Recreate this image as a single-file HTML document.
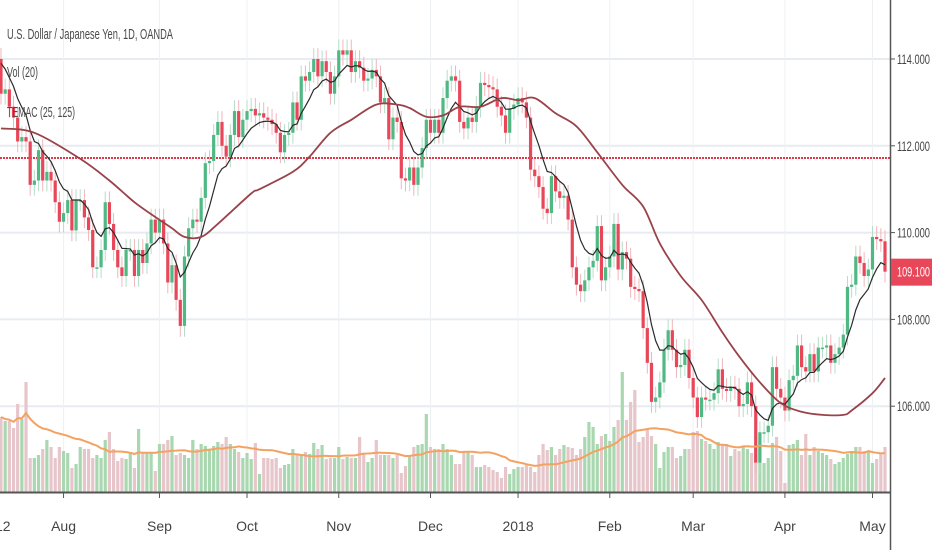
<!DOCTYPE html>
<html><head><meta charset="utf-8"><style>
html,body{margin:0;padding:0;background:#fff;}
svg{display:block;font-family:"Liberation Sans",sans-serif;}
</style></head><body>
<svg id="chart" width="932" height="550" viewBox="0 0 932 550" xmlns="http://www.w3.org/2000/svg">
<g id="grid"></g>
<g id="vol"></g>
<g id="candles"></g>
<g id="lines"></g>
<g id="axes"></g>
<text x="7" y="39" font-size="15" fill="#4a4a4a" textLength="166" lengthAdjust="spacingAndGlyphs">U.S. Dollar / Japanese Yen, 1D, OANDA</text>
<text x="7" y="77" font-size="15" fill="#4a4a4a" textLength="31" lengthAdjust="spacingAndGlyphs">Vol (20)</text>
<text x="7" y="117" font-size="15" fill="#4a4a4a" textLength="68" lengthAdjust="spacingAndGlyphs">TEMAC (25, 125)</text>
</svg>
<script>
const closes = [
113.2,113.3,112.9,112.65,112.1,112.2,112.1,111.1,111.2,111.9,111.2,111.4,111.2,110.7,110.25,110.45,110.75,110.05,110.75,110.75,110.35,110.06,109.2,109.2,109.6,110.7,110.2,109.6,109.2,109.0,109.6,109.6,109.0,109.6,109.3,109.75,110.3,110.0,110.3,109.75,108.85,109.25,108.45,107.85,109.45,110.1,110.3,110.25,110.8,111.6,111.65,112.25,112.55,112.0,111.75,112.25,112.8,112.2,112.6,112.8,112.85,112.7,112.75,112.65,112.6,112.5,112.3,111.85,112.25,112.3,113.0,112.6,113.6,113.5,113.7,
114.0,113.6,113.95,113.7,113.2,113.6,114.2,114.1,114.2,113.7,113.95,113.8,113.5,113.55,113.75,113.6,113.0,113.1,112.15,112.65,112.55,111.25,111.2,111.5,111.1,111.5,111.95,112.6,112.3,112.6,112.3,113.1,113.5,113.6,113.5,112.55,112.4,112.65,112.55,112.9,113.45,113.4,113.35,113.3,112.9,112.7,112.3,112.85,112.95,113.1,113.0,112.65,111.45,111.3,111.05,110.55,110.45,111.3,110.95,110.8,110.85,110.3,109.2,108.8,108.65,108.9,109.2,109.35,110.15,
108.9,109.2,109.45,110.2,109.15,109.55,109.4,108.75,108.7,108.65,107.8,107.0,106.1,106.2,106.55,107.3,107.75,107.3,106.9,106.95,107.3,106.65,106.2,105.75,106.2,106.15,106.15,106.3,106.85,106.4,106.35,106.45,106.4,106.0,106.05,106.55,106.0,104.7,105.4,105.4,105.55,106.9,106.4,106.2,105.9,106.6,106.7,107.4,106.9,106.8,107.2,106.8,107.35,107.35,107.4,107.0,107.2,107.35,107.65,108.75,108.8,109.45,109.3,109.0,109.15,109.9,109.85,109.8,109.1
];
const firstOpen = 114.0;
const volumes = [
75,71,71,64,88,73,110,34,34,37,43,52,45,34,45,
41,39,24,28,45,43,43,34,37,34,52,60,43,31,34,
33,39,24,63,39,39,39,21,48,48,52,56,37,39,37,
34,52,43,48,46,43,46,50,48,55,48,43,40,34,39,
33,49,18,34,34,33,34,24,27,28,43,38,38,40,38,
49,43,47,33,34,34,45,33,35,34,34,55,39,30,34,
52,37,37,37,34,37,19,26,37,45,47,48,78,45,43,
43,48,43,37,28,28,41,41,37,25,25,27,25,22,20,
14,25,18,23,25,25,27,25,20,37,48,42,45,37,43,
47,45,44,37,43,55,70,65,48,56,58,51,65,72,120,
72,90,102,50,55,62,56,48,24,40,45,45,34,36,43,
43,60,61,53,51,48,43,50,47,48,36,43,41,45,43,
39,43,55,29,34,49,55,41,9,47,48,52,37,58,37,
45,41,39,37,33,28,30,34,38,41,45,45,41,41,29,33,39,45
];
const slowIdx = [0,8,19,26,32,37,41,44,48,52,60,62,70,74,79,84,90,95,98,102,106,110,115,120,124,128,133,138,143,149,154,158,163,168,173,177,182,187,192,197,202,204,209,212];
const slowVals = [112.4,112.3,111.7,111.2,110.7,110.36,110.1,109.9,109.9,110.2,110.9,111.0,111.4,111.75,112.3,112.6,112.95,112.95,112.87,112.67,112.7,112.9,112.9,113.1,113.05,113.1,112.75,112.45,111.85,111.1,110.6,109.75,109.0,108.45,107.7,107.15,106.55,106.07,105.87,105.8,105.8,105.9,106.3,106.65];
const priceTicks = [114,112,110,108,106];
const priceTickLabels = ["114.000","112.000","110.000","108.000","106.000"];
const monthLabels = ["12","Aug","Sep","Oct","Nov","Dec","2018","Feb","Mar","Apr","May"];
const monthIndex = [-1,15,38,59,81,103,124,146,166,188,209];
const lastPrice = 109.1;
const alertLevel = 111.72;

const NS="http://www.w3.org/2000/svg";
const N=closes.length, STEP=884/(N-1);
const xOf=i=>i*STEP+1;
const yP=p=>59+(114-p)*43.4;
const yV=v=>492-v*1.0;
function mk(tag,attrs,parent){const e=document.createElementNS(NS,tag);for(const k in attrs)e.setAttribute(k,attrs[k]);parent.appendChild(e);return e;}
const G=id=>document.getElementById(id);

priceTicks.forEach(p=>{const l=mk('line',{x1:0,x2:890,y1:yP(p),y2:yP(p),stroke:'#e8ecf0','stroke-width':2},G('grid'));

});
monthIndex.forEach((m,k)=>{if(k===0)return;const x=xOf(m);const l=mk('line',{x1:x,x2:x,y1:0,y2:492,stroke:'#eef1f4','stroke-width':1},G('grid'));

});
const al=mk('line',{x1:0,x2:890,y1:yP(alertLevel),y2:yP(alertLevel),stroke:'#e03a4a','stroke-width':2,'stroke-dasharray':'2,1'},G('grid'));



const opens=closes.map((c,i)=>i===0?firstOpen:closes[i-1]);

volumes.forEach((v,i)=>{const up=closes[i]>=opens[i];const r=mk('rect',{x:xOf(i)-1.6,y:yV(v),width:3.2,height:492-yV(v),fill:up?'#a9d8b0':'#e6c6ca'},G('vol'));

});
let vp=[];for(let i=0;i<N;i++){const s=Math.max(0,i-19);let sum=0;for(let j=s;j<=i;j++)sum+=volumes[j];vp.push(xOf(i).toFixed(1)+','+yV(sum/(i-s+1)).toFixed(1));}
const vma=mk('polyline',{points:vp.join(' '),fill:'none',stroke:'#f4a261','stroke-width':2},G('lines'));



closes.forEach((c,i)=>{const o=opens[i];const up=c>=o;const col=up?'#4fb883':'#e8475a';const x=xOf(i);
const hi=Math.max(o,c)+0.25,lo=Math.min(o,c)-0.25;
const w=mk('line',{x1:x,x2:x,y1:yP(hi),y2:yP(lo),stroke:up?'#b5dec8':'#f1b5bd','stroke-width':1},G('candles'));


const top=yP(Math.max(o,c)),h=Math.max(1.5,yP(Math.min(o,c))-top);
const b=mk('rect',{x:x-1.6,y:top,width:3.2,height:h,fill:col},G('candles'));

});

function ema(n,seed){const a=2/(n+1);let e=seed;return closes.map(c=>(e=e+a*(c-e)));}
const fast=ema(8,114.1);
const fl=mk('polyline',{points:fast.map((v,i)=>xOf(i).toFixed(1)+','+yP(v).toFixed(1)).join(' '),fill:'none',stroke:'#2b2b2b','stroke-width':1.2},G('lines'));


// smooth curve through slow points (Catmull-Rom)
const P=slowVals.map((v,k)=>[xOf(slowIdx[k]),yP(v)]);
let d='M'+P[0][0].toFixed(1)+','+P[0][1].toFixed(1);
for(let k=0;k<P.length-1;k++){const p0=P[Math.max(0,k-1)],p1=P[k],p2=P[k+1],p3=P[Math.min(P.length-1,k+2)];
const c1=[p1[0]+(p2[0]-p0[0])/6,p1[1]+(p2[1]-p0[1])/6],c2=[p2[0]-(p3[0]-p1[0])/6,p2[1]-(p3[1]-p1[1])/6];
d+=' C'+c1.map(n=>n.toFixed(1)).join(',')+' '+c2.map(n=>n.toFixed(1)).join(',')+' '+p2.map(n=>n.toFixed(1)).join(',');}
const sl=mk('path',{d:d,fill:'none',stroke:'#9a4249','stroke-width':1.8},G('lines'));



const ax=G('axes');
const ya=mk('line',{x1:890.5,x2:890.5,y1:0,y2:550,stroke:'#555','stroke-width':1.5},ax);


const xa=mk('line',{x1:0,x2:890,y1:492.5,y2:492.5,stroke:'#555','stroke-width':2},ax);


priceTicks.forEach((p,k)=>{const y=yP(p);
const t=mk('line',{x1:890,x2:895,y1:y,y2:y,stroke:'#555','stroke-width':1},ax);


const tx=mk('text',{x:897,y:y+5,'font-size':14,fill:'#444',textLength:33,lengthAdjust:'spacingAndGlyphs'},ax);tx.textContent=priceTickLabels[k];

});
monthIndex.forEach((m,k)=>{const x=xOf(m);
const t=mk('line',{x1:x,x2:x,y1:493,y2:498,stroke:'#555','stroke-width':1},ax);


const tx=mk('text',{x:k===0?-5:x,y:531,'font-size':14,fill:'#444','text-anchor':k===0?'start':'middle'},ax);tx.textContent=monthLabels[k];

});
const ly=yP(lastPrice);
const tag=mk('rect',{x:891,y:ly-13,width:41,height:27,fill:'#e8475a'},ax);


const tt=mk('text',{x:897,y:ly+5,'font-size':14,fill:'#fff',textLength:33,lengthAdjust:'spacingAndGlyphs'},ax);tt.textContent=lastPrice.toFixed(3);


</script>
</body></html>
